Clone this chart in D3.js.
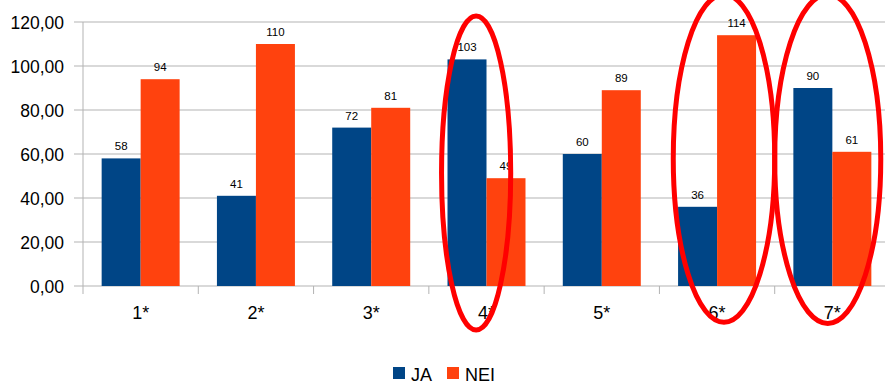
<!DOCTYPE html>
<html><head><meta charset="utf-8">
<script src="https://cdn.jsdelivr.net/npm/d3@7"></script>
<style>body{margin:0;background:#fff}svg{display:block}text{font-family:"Liberation Sans",Arial,sans-serif}</style>
</head><body><svg id="c" width="885" height="382"></svg>
<script>
const categories = ["1*","2*","3*","4*","5*","6*","7*"];
const seriesNames = ["JA","NEI"];
const jaValues = [58,41,72,103,60,36,90];
const neiValues = [94,110,81,49,89,114,61];
const yTicks = [0,20,40,60,80,100,120];
const colors = ["#004586","#ff420e"];
// annotation ellipses: category, centre offset as fraction of band, top/bottom values, half-width in bands
const annCats = ["4*","6*","7*"];
const annCenter = [0.41,0.56,0.46];
const annTop = [122.7,132.5,132.5];
const annBottom = [-20,-16.5,-17];
const annHalfW = [0.30,0.44,0.46];

const svg = d3.select("#c");
const mLeft = 83, mRight = 890, mTop = 22, mBottom = 286;
const x = d3.scaleBand().domain(categories).range([mLeft,mRight]).paddingInner(0.3235).paddingOuter(0.16175);
const xOuter = d3.scaleBand().domain(categories).range([mLeft,mRight]);
const y = d3.scaleLinear().domain([0,120]).range([mBottom,mTop]);
const grey = "#b3b3b3";

// gridlines
svg.append("g").selectAll("line").data(yTicks).join("line")
  .attr("x1",74).attr("x2",885).attr("y1",d=>y(d)).attr("y2",d=>y(d))
  .attr("stroke",grey).attr("stroke-width",1);
// y axis line
svg.append("line").attr("x1",mLeft).attr("x2",mLeft).attr("y1",mTop).attr("y2",mBottom+8).attr("stroke",grey);
// x tick marks
svg.append("g").selectAll("line").data(categories.slice(1)).join("line")
  .attr("x1",d=>xOuter(d)).attr("x2",d=>xOuter(d)).attr("y1",mBottom).attr("y2",mBottom+8).attr("stroke",grey);
// y labels
svg.append("g").selectAll("text").data(yTicks).join("text")
  .attr("x",64).attr("y",d=>y(d)+6.5).attr("text-anchor","end").attr("font-size",17.5).attr("fill","#000")
  .text(d=>d3.format(".2f")(d).replace(".",","));
// x labels
svg.append("g").selectAll("text").data(categories).join("text")
  .attr("x",d=>xOuter(d)+xOuter.bandwidth()/2).attr("y",319).attr("text-anchor","middle").attr("font-size",18).attr("fill","#000")
  .text(d=>d);

const bw = x.bandwidth()/2;
const series = [jaValues, neiValues];
series.forEach((vals,si)=>{
  const g = svg.append("g");
  g.selectAll("rect").data(vals).join("rect")
    .attr("x",(d,i)=>x(categories[i])+si*bw).attr("width",bw)
    .attr("y",d=>y(d)).attr("height",d=>y(0)-y(d)).attr("fill",colors[si]);
  g.selectAll("text").data(vals).join("text")
    .attr("x",(d,i)=>x(categories[i])+si*bw+bw/2).attr("y",d=>y(d)-8)
    .attr("text-anchor","middle").attr("font-size",11.5).attr("fill","#000").text(d=>d);
});

// legend
const lg = svg.append("g");
const legX = [393,447];
seriesNames.forEach((n,i)=>{
  lg.append("rect").attr("x",legX[i]).attr("y",367).attr("width",12).attr("height",12).attr("fill",colors[i]);
  lg.append("text").attr("x",legX[i]+18).attr("y",381).attr("font-size",18).attr("fill","#000").text(n);
});

// annotations
svg.append("g").selectAll("ellipse").data(annCats).join("ellipse")
  .attr("cx",(d,i)=>xOuter(d)+xOuter.bandwidth()*annCenter[i])
  .attr("cy",(d,i)=>(y(annTop[i])+y(annBottom[i]))/2)
  .attr("rx",(d,i)=>xOuter.bandwidth()*annHalfW[i])
  .attr("ry",(d,i)=>(y(annBottom[i])-y(annTop[i]))/2)
  .attr("fill","none").attr("stroke","#ff0000").attr("stroke-width",5);
</script></body></html>
